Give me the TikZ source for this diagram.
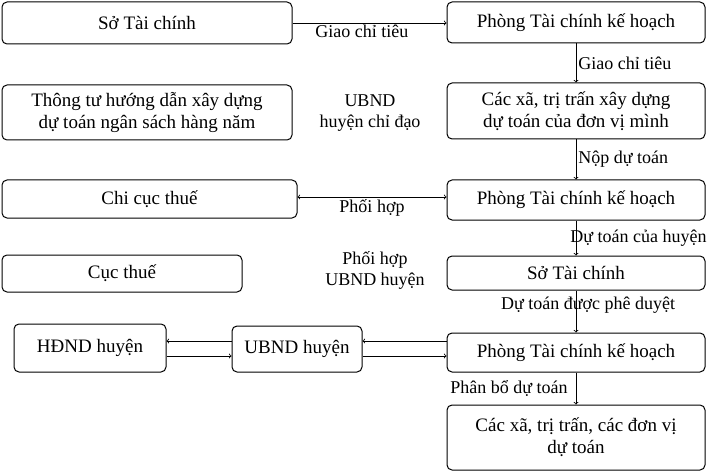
\documentclass[tikz,border=0pt]{standalone}
\usepackage{fontspec}
\setmainfont{Liberation Serif}
\begin{document}
\begin{tikzpicture}[x=1pt,y=-1pt,
  bx/.style={draw,rounded corners=5pt,line width=1pt,align=center,font=\fontsize{19}{22}\selectfont},
  lb/.style={font=\fontsize{18}{21}\selectfont,align=center,inner sep=2pt},
  ar/.style={->,line width=0.8pt}]
\useasboundingbox (0,0) rectangle (710,476);
\newcommand{\bx}[6]{\node[bx,minimum width=#4-#2,minimum height=#5-#3,inner sep=1pt] (#1) at ({(#2+#4)/2},{(#3+#5)/2}) {#6};}
\bx{a}{2}{2}{292}{44}{Sở Tài chính}
\bx{r1}{447}{2}{705}{43}{Phòng Tài chính kế hoạch}
\bx{b}{2}{85}{292}{140}{Thông tư hướng dẫn xây dựng\\dự toán ngân sách hàng năm}
\bx{r2}{447}{83}{705}{139}{Các xã, trị trấn xây dựng\\dự toán của đơn vị mình}
\bx{c}{2}{180}{297}{218}{Chi cục thuế}
\bx{r3}{447}{180}{705}{220}{Phòng Tài chính kế hoạch}
\bx{d}{2}{255}{242}{292}{Cục thuế}
\bx{r4}{447}{256}{705}{290}{Sở Tài chính}
\bx{h}{14}{324}{166}{372}{HĐND huyện}
\bx{u}{232}{326}{362}{372}{UBND huyện}
\bx{r5}{447}{333}{705}{372}{Phòng Tài chính kế hoạch}
\bx{r6}{447}{405}{705}{470}{Các xã, trị trấn, các đơn vị\\dự toán}
\draw[ar] (a.east) -- (r1.west|-a.east) node[lb,pos=0.45,below] {Giao chỉ tiêu};
\draw[ar] (r1) -- (r2) node[lb,midway,right] {Giao chỉ tiêu};
\draw[ar] (r2) -- (r3) node[lb,midway,right] {Nộp dự toán};
\draw[ar] (r3) -- (r4) node[lb,midway,right,xshift=-8pt] {Dự toán của huyện};
\draw[ar] (r4) -- (r5);
\node[lb] (t3) at (588,305) {Dự toán được phê duyệt};
\draw[ar] (r5) -- (r6) node[lb,midway,left,xshift=-6pt] {Phân bổ dự toán};
\node[lb] (t1) at (370,113) {UBND\\huyện chỉ đạo};
\draw[<->,line width=0.8pt] (c.east|-0,197) -- (r3.west|-0,197) node[lb,pos=0.5,below] {Phối hợp};
\node[lb] (t2) at (375,270) {Phối hợp\\UBND huyện};
\draw[ar] (u.west|-0,341) -- (h.east|-0,341);
\draw[ar] (h.east|-0,356) -- (u.west|-0,356);
\draw[ar] (r5.west|-0,341) -- (u.east|-0,341);
\draw[ar] (u.east|-0,356) -- (r5.west|-0,356);
\end{tikzpicture}
\end{document}
